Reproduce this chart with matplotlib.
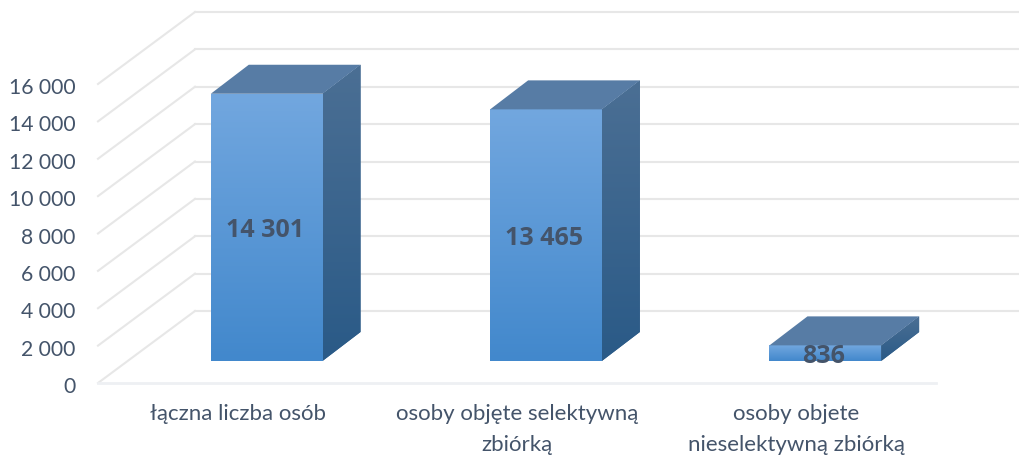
import numpy as np
import matplotlib
matplotlib.use("Agg")
import matplotlib.pyplot as plt
from matplotlib.colors import to_rgb
from matplotlib.patches import Polygon
from matplotlib.ticker import FuncFormatter
from matplotlib.transforms import Affine2D, IdentityTransform

categories = ["łączna liczba osób", "osoby objęte selektywną\nzbiórką", "osoby objete\nnieselektywną zbiórką"]
values = [14301, 13465, 836]
value_labels = ["14 301", "13 465", "836"]
y_ticks = [0, 2000, 4000, 6000, 8000, 10000, 12000, 14000, 16000]

W, H = 1020, 455
WALL = (97, 72)      # px depth of back wall
BAR_OFF = (29, 22)   # px offset of the bar front inside the floor
DEPTH = (38, 29)     # px depth of a bar
TEXT = "#44546a"
GRID = "#e7e7e7"

plt.rcParams["font.family"] = ["Lato", "DejaVu Sans"]
fig = plt.figure(figsize=(W / 100, H / 100), dpi=100, facecolor="white")
ax = fig.add_axes([98 / W, (H - 383) / H, 838 / W, 299 / H])
ax.set_xlim(0, 3)
ax.set_ylim(0, 16000)
for s in ax.spines.values():
    s.set_visible(False)
ax.patch.set_visible(False)

ax.set_yticks(y_ticks)
ax.yaxis.set_major_formatter(FuncFormatter(lambda v, _: f"{int(v):,}".replace(",", " ")))
ax.set_xticks([i + 0.5 for i in range(len(categories))])
ax.set_xticklabels(categories, linespacing=1.72)
ax.tick_params(axis="y", length=0, pad=16, labelsize=15.2, labelcolor=TEXT)
ax.tick_params(axis="x", length=0, pad=15, labelsize=16, labelcolor=TEXT)
for lab in ax.get_xticklabels():
    lab.set_verticalalignment("top")
for lab in ax.get_yticklabels():
    lab.set_transform(lab.get_transform() + Affine2D().translate(0, -2))

wall = ax.transData + Affine2D().translate(*WALL)
for v in y_ticks:
    ax.plot([0, 3], [v, v], transform=wall, color=GRID, lw=1.5, clip_on=False, zorder=1)
    p0 = ax.transData.transform((0, v))
    ax.plot([p0[0], p0[0] + WALL[0]], [p0[1], p0[1] + WALL[1]], transform=IdentityTransform(),
            color=GRID, lw=1.5, clip_on=False, zorder=1)
ax.plot([0, 3], [0, 0], color="#eef0f3", lw=2, clip_on=False, zorder=1)


def gradient(patch, box, top, bottom, z):
    n = 128
    t = np.linspace(0, 1, n)[:, None, None]
    img = (1 - t) * np.array(to_rgb(top))[None, None, :] + t * np.array(to_rgb(bottom))[None, None, :]
    im = ax.imshow(img, extent=box, aspect="auto", transform=IdentityTransform(),
                   interpolation="bilinear", zorder=z, origin="upper")
    im.set_clip_box(fig.bbox)
    im.set_clip_path(patch)


front = ax.transData + Affine2D().translate(*BAR_OFF)
bars = ax.bar([i + 0.5 for i in range(len(values))], values, width=0.4, transform=front,
              color="#5b9bd5", linewidth=0, clip_on=False, zorder=3)
for bar, val, lab in zip(bars, values, value_labels):
    (x0, y0), (x1, y1) = front.transform([(bar.get_x(), 0), (bar.get_x() + bar.get_width(), val)])
    dx, dy = DEPTH
    gradient(bar, (x0, x1, y0, y1), "#72a7df", "#4288cc", 3.1)
    side = Polygon([(x1, y0), (x1 + dx, y0 + dy), (x1 + dx, y1 + dy), (x1, y1)], closed=True,
                   transform=IdentityTransform(), facecolor="#3a6690", linewidth=0, clip_on=False, zorder=3)
    ax.add_patch(side)
    gradient(side, (x1, x1 + dx, y0, y1 + dy), "#4b6f94", "#2a5a87", 3.1)
    topf = Polygon([(x0, y1), (x0 + dx, y1 + dy), (x1 + dx, y1 + dy), (x1, y1)], closed=True,
                   transform=IdentityTransform(), facecolor="#577ca5", linewidth=0, clip_on=False, zorder=3.2)
    ax.add_patch(topf)
    ax.text((x0 + x1) / 2 - 1.5, (y0 + y1) / 2 - 3, lab, transform=IdentityTransform(), ha="center", va="center",
            fontsize=18, fontweight="bold", family="Open Sans", color=TEXT, zorder=5)

ax.set_xlim(0, 3)
ax.set_ylim(0, 16000)
fig.savefig("out.png", dpi=100, facecolor="white")
